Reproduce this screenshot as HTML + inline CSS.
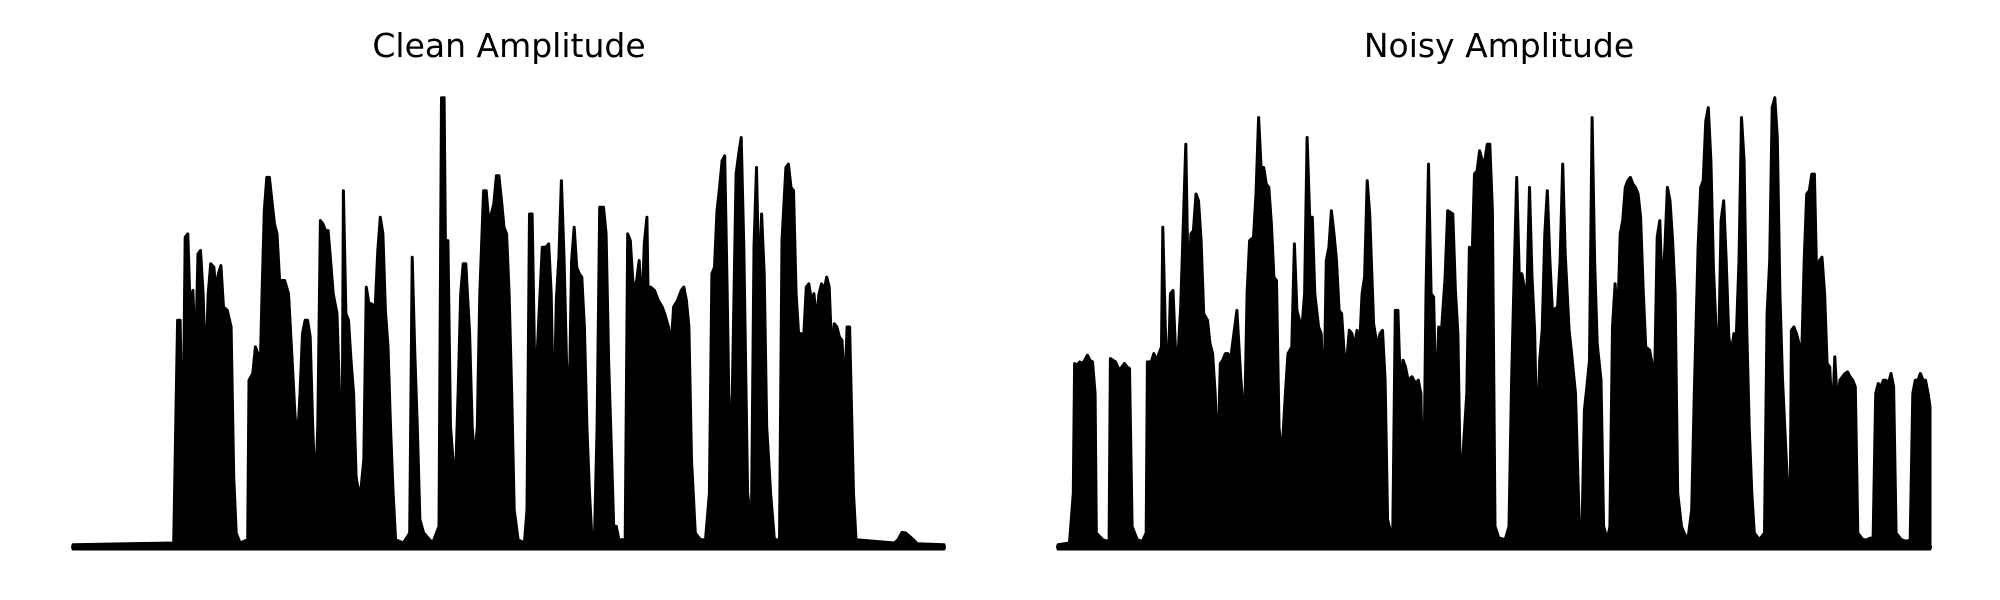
<!DOCTYPE html>
<html><head><meta charset="utf-8"><style>
html,body{margin:0;padding:0;background:#fff;}
svg{display:block;}
</style></head><body>
<svg id="chart" width="2000" height="600" viewBox="0 0 2000 600" xmlns="http://www.w3.org/2000/svg">
<text x="509" y="57" text-anchor="middle" font-family="DejaVu Sans, Liberation Sans, sans-serif" font-size="33" fill="#000">Clean Amplitude</text>
<text x="1499" y="57" text-anchor="middle" font-family="DejaVu Sans, Liberation Sans, sans-serif" font-size="33" fill="#000">Noisy Amplitude</text>
<g id="clean-panel"></g>
<g id="noisy-panel"></g>
</svg>
<script>
// envelope of clean signal (time units, amplitude units)
const cleanTime = [0,158,162,164,168,172,176,180,184,188,192,196,200,204,208,212,216,221,224,228,232,236,242,248,252,256,262,274,276,282,286,290,292,296,300,304,308,312,316,320,324,332,338,344,348,352,356,360,364,368,372,376,380,384,388,392,396,400,404,408,414,418,422,424,428,432,436,440,444,448,452,456,460,464,468,474,478,482,486,490,494,498,502,506,518,528,532,536,540,544,550,564,574,578,582,584,588,592,596,600,604,608,612,616,622,626,630,634,638,644,648,652,656,660,664,668,672,676,680,684,688,692,698,708,712,716,720,724,728,732,736,742,746,750,754,758,762,766,770,774,778,782,786,790,794,798,802,806,810,814,818,822,826,832,836,840,844,848,852,856,860,866,870,874,878,882,888,892,896,900,902,906,912,918,924,928,934,938,942,948,954,958,962,966,970,976,984,992,998,1002,1006,1010,1014,1018,1022,1026,1030,1034,1040,1044,1048,1052,1058,1064,1068,1072,1076,1080,1084,1088,1094,1100,1108,1112,1118,1122,1126,1130,1134,1138,1142,1146,1150,1154,1158,1162,1166,1170,1174,1178,1182,1186,1190,1194,1198,1202,1206,1210,1214,1218,1224,1228,1288,1294,1300,1306,1312,1318,1324,1366];
const cleanAmp = [7,12,462,682,682,232,932,942,702,772,562,882,892,762,522,762,852,842,772,822,847,722,712,662,212,42,12,22,502,522,602,582,412,722,1012,1112,1112,1042,972,942,802,802,762,552,402,312,462,642,682,682,632,362,162,362,982,972,952,952,862,762,702,462,262,1072,702,682,562,462,212,162,182,262,782,732,732,722,892,992,942,712,602,362,162,22,12,42,872,582,362,82,42,12,62,1352,1352,922,922,362,262,212,462,762,852,852,642,362,262,362,762,1072,1072,982,1002,1032,1117,1117,1042,962,942,762,462,112,22,12,112,1002,1002,562,582,742,902,902,912,762,342,742,872,1102,872,562,402,862,962,842,822,812,662,362,162,22,42,362,1022,1022,942,562,312,62,62,22,22,22,942,922,802,772,862,702,912,992,762,782,772,742,722,702,662,602,722,742,772,782,742,662,262,42,22,22,162,822,842,1012,1082,1162,1177,762,262,462,1122,1182,1232,902,162,62,902,1142,762,1002,822,362,162,22,22,922,1142,1152,1082,1072,762,642,642,632,782,792,742,762,682,762,792,772,812,782,582,672,662,632,622,462,662,662,162,22,12,22,44,42,32,22,10,7];
// envelope of noisy signal
const noisyTime = [0,18,24,26,30,34,38,42,46,50,54,58,60,70,78,80,82,86,90,96,100,104,108,112,116,124,132,138,140,146,150,154,158,162,164,168,172,176,180,184,188,192,196,200,204,208,212,216,220,224,228,234,238,242,246,250,254,258,262,266,270,274,280,286,292,296,300,306,310,314,318,322,326,330,334,338,342,346,350,356,360,366,370,374,378,382,386,390,394,398,402,408,412,416,420,424,428,432,436,440,444,448,452,456,460,464,468,472,476,480,484,488,494,500,504,508,512,516,524,528,532,536,540,544,548,554,560,564,568,572,576,580,584,588,592,596,600,606,610,614,618,622,626,630,640,644,648,652,656,660,664,668,672,676,680,684,690,700,706,710,714,718,722,726,730,734,738,742,746,750,754,758,762,766,770,774,778,782,786,790,794,800,804,810,816,820,824,828,832,836,840,844,850,854,860,864,868,872,876,880,884,888,892,896,900,904,908,912,916,920,926,930,934,938,942,946,950,954,958,962,966,970,976,980,986,992,996,1002,1006,1010,1014,1018,1022,1026,1030,1034,1038,1042,1046,1050,1054,1058,1062,1066,1070,1074,1078,1082,1086,1090,1098,1106,1110,1114,1118,1122,1126,1130,1134,1140,1146,1148,1152,1156,1160,1164,1168,1172,1176,1180,1184,1188,1192,1196,1200,1204,1208,1212,1216,1220,1224,1228,1232,1236,1240,1244,1248,1252,1260,1266,1272,1276,1280,1284,1288,1292,1296,1300,1304,1308,1312,1320,1328,1334,1338,1342,1346,1350,1354,1358,1362,1365,1365];
const noisyAmp = [7,12,162,552,547,557,552,562,577,562,557,462,42,22,17,22,567,562,557,532,542,552,542,537,62,22,17,42,557,557,582,562,582,602,962,662,482,762,772,592,582,722,962,1212,762,942,952,1062,1042,922,702,682,612,582,462,242,552,562,582,582,562,622,712,512,362,762,922,932,1062,1292,1142,1142,1092,1082,972,812,802,362,262,462,582,602,912,712,682,662,762,1232,992,992,762,662,642,412,862,902,1012,942,862,712,702,582,562,652,642,602,652,602,762,812,1102,1002,672,602,642,652,502,82,22,712,712,482,562,542,502,512,492,502,462,82,762,1152,762,752,412,662,642,812,1012,1007,1002,772,642,162,462,902,862,1122,1132,1192,1162,1162,1212,1212,1012,62,27,22,62,502,812,1112,822,822,782,762,1082,812,652,302,562,652,942,1072,862,702,717,722,862,1152,882,652,582,462,62,22,412,482,562,1292,862,612,502,62,22,62,662,792,672,942,982,1082,1102,1112,1092,1082,1062,992,772,602,592,552,512,932,982,762,902,1082,1042,922,762,162,62,42,22,112,462,902,1082,1102,1282,1322,1162,842,662,562,982,1042,862,632,582,642,642,862,1292,1162,662,362,162,42,22,42,702,862,1322,1352,1232,762,512,262,62,652,662,642,612,562,862,1062,1072,1122,1122,782,862,872,762,552,542,382,572,422,502,512,522,527,512,502,482,42,22,22,27,22,462,492,482,502,502,492,522,482,42,22,17,22,462,502,502,522,502,502,462,422,7];

const AMP_MAX = 1357, Y0 = 547, Y1 = 96;
function yScale(a){ return Y0 - a * (Y0 - Y1) / AMP_MAX; }
function makeX(x0, x1, tMax){ return t => x0 + t * (x1 - x0) / tMax; }

function drawPanel(gid, times, amps, x0, x1, name){
  const g = document.getElementById(gid);
  const xs = makeX(x0, x1, times[times.length-1]);
  let pts = xs(times[0]).toFixed(1) + ',' + (Y0+2);
  for (let i = 0; i < times.length; i++) pts += ' ' + xs(times[i]).toFixed(1) + ',' + yScale(amps[i]).toFixed(1);
  pts += ' ' + xs(times[times.length-1]).toFixed(1) + ',' + (Y0+2);
  const p = document.createElementNS('http://www.w3.org/2000/svg','polygon');
  p.setAttribute('points', pts);
  p.setAttribute('fill', '#000');
  p.setAttribute('stroke', '#000');
  p.setAttribute('stroke-width', '3');
  p.setAttribute('stroke-linejoin', 'round');
  
  
  g.appendChild(p);
  const b = document.createElementNS('http://www.w3.org/2000/svg','line');
  b.setAttribute('x1', xs(times[0])); b.setAttribute('x2', xs(times[times.length-1]));
  b.setAttribute('y1', Y0); b.setAttribute('y2', Y0);
  b.setAttribute('stroke', '#000'); b.setAttribute('stroke-width', '4'); b.setAttribute('stroke-linecap', 'round');
  
  
  g.appendChild(b);
}
drawPanel('clean-panel', cleanTime, cleanAmp, 73, 944, 'clean');
drawPanel('noisy-panel', noisyTime, noisyAmp, 1058, 1930, 'noisy');
</script>
</body></html>
